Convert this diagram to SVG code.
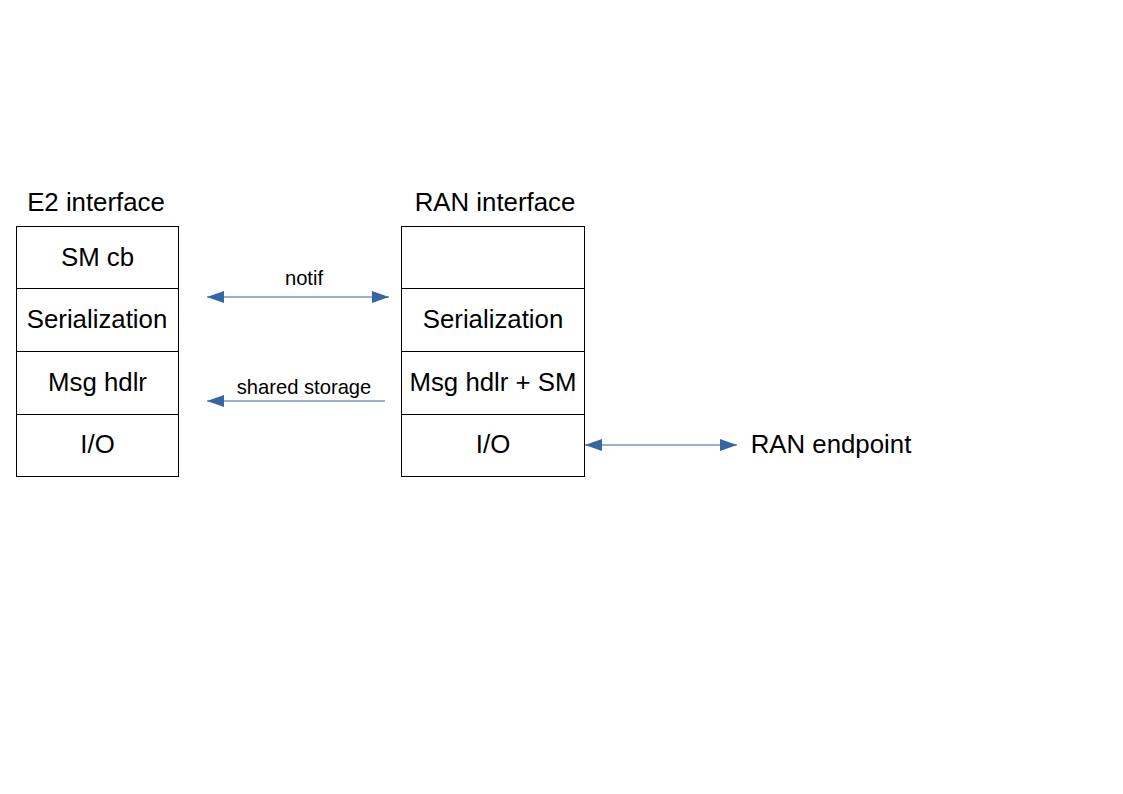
<svg xmlns="http://www.w3.org/2000/svg" width="1123" height="794" viewBox="0 0 1123 794">
<style>
.cell{fill:#fff;stroke:#000;stroke-width:1}
.t{font-family:"Liberation Sans",Arial,sans-serif;font-size:25.8px;fill:#000;text-anchor:middle}
.lbl{font-family:"Liberation Sans",Arial,sans-serif;font-size:20.2px;fill:#000;text-anchor:middle}
.c{stroke:#3465a4;stroke-width:1;fill:none}
</style>
<defs>
<marker id="ah" viewBox="0 0 17 12" refX="17" refY="6" markerWidth="17" markerHeight="12" markerUnits="userSpaceOnUse" orient="auto-start-reverse">
<path d="M0,0 L17,6 L0,12 Z" fill="#3465a4"/>
</marker>
</defs>
<rect width="1123" height="794" fill="#fff"/>
<g id="e2">
<text class="t" x="96" y="211">E2 interface</text>
<rect class="cell" x="16.5" y="226.5" width="162" height="62"/>
<text class="t" x="97.5" y="266">SM cb</text>
<rect class="cell" x="16.5" y="288.5" width="162" height="63"/>
<text class="t" x="97" y="328">Serialization</text>
<rect class="cell" x="16.5" y="351.5" width="162" height="63"/>
<text class="t" x="97.5" y="391">Msg hdlr</text>
<rect class="cell" x="16.5" y="414.5" width="162" height="62"/>
<text class="t" x="97.5" y="453">I/O</text>
</g>
<g id="ran">
<text class="t" x="495" y="211">RAN interface</text>
<rect class="cell" x="401.5" y="226.5" width="183" height="62"/>
<rect class="cell" x="401.5" y="288.5" width="183" height="63"/>
<text class="t" x="493" y="328">Serialization</text>
<rect class="cell" x="401.5" y="351.5" width="183" height="63"/>
<text class="t" x="493" y="391">Msg hdlr + SM</text>
<rect class="cell" x="401.5" y="414.5" width="183" height="62"/>
<text class="t" x="493" y="453">I/O</text>
</g>
<g id="endpoint">
<text class="t" x="831" y="453">RAN endpoint</text>
</g>
<g id="connectors">
<line class="c" x1="207" y1="297" x2="389" y2="297" marker-start="url(#ah)" marker-end="url(#ah)"/>
<text class="lbl" x="304" y="285">notif</text>
<line class="c" x1="385" y1="401" x2="207" y2="401" marker-end="url(#ah)"/>
<text class="lbl" x="304" y="394">shared storage</text>
<line class="c" x1="585" y1="445" x2="737" y2="445" marker-start="url(#ah)" marker-end="url(#ah)"/>
</g>
</svg>
